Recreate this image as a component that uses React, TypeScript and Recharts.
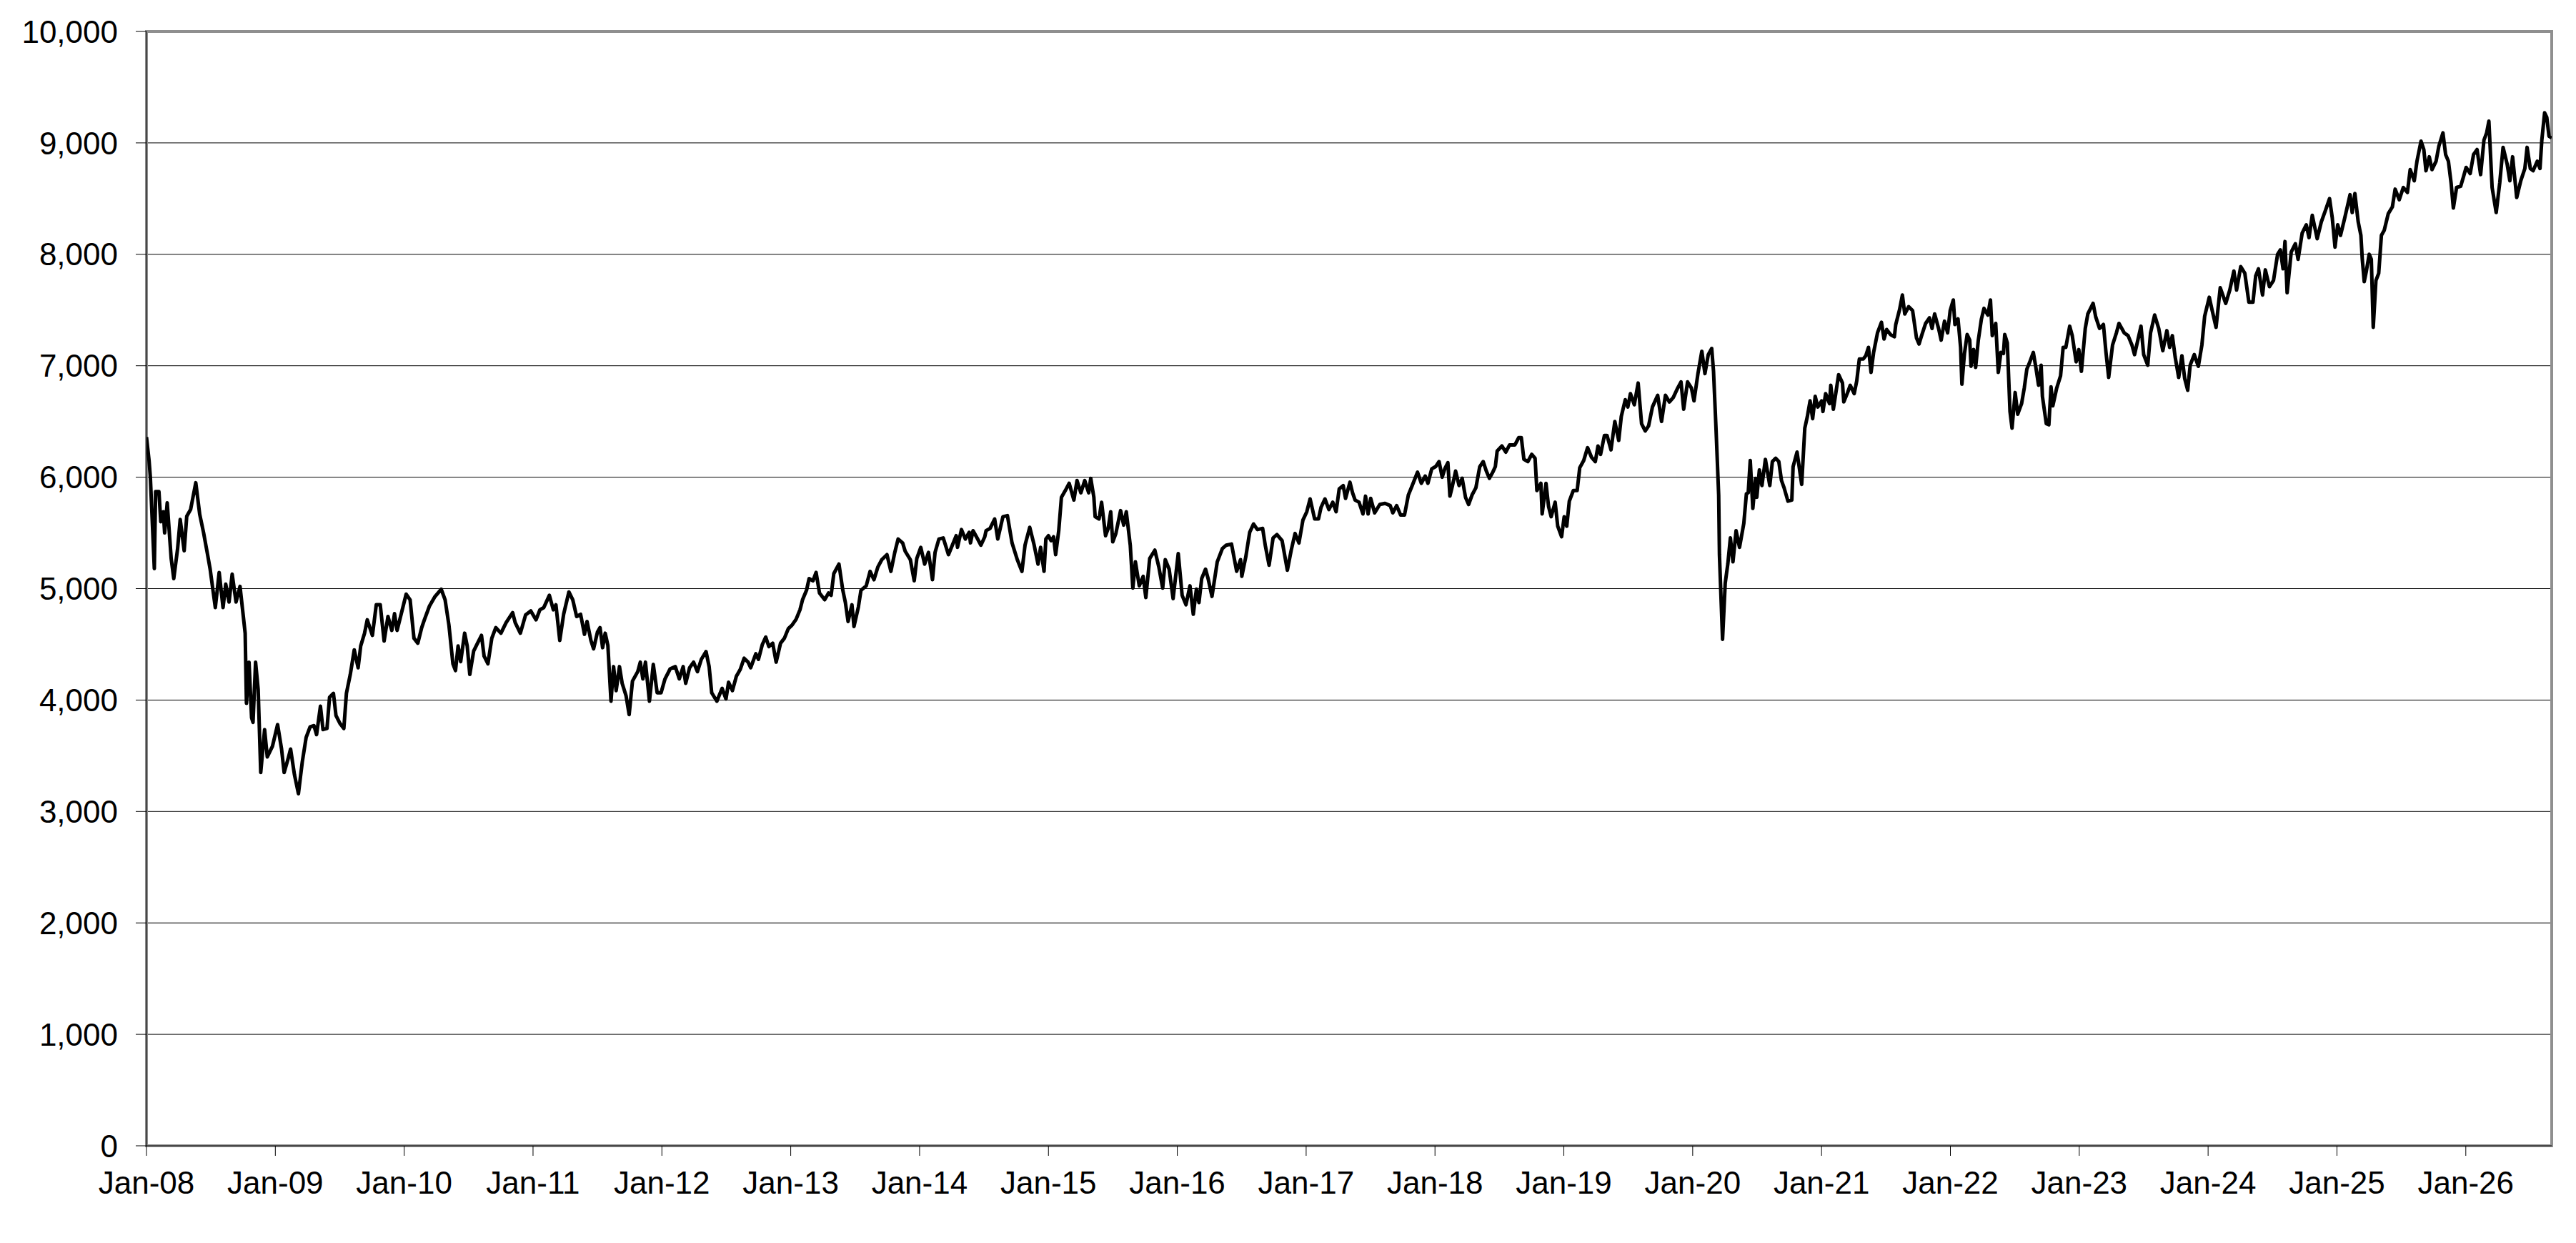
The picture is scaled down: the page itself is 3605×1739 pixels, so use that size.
import React from 'react';
import { LineChart, Line, XAxis, YAxis, CartesianGrid, ReferenceArea } from 'recharts';

// [months since Jan-08, index value]
const period2008to2010: [number, number][] = [
  [0.0, 6360], [0.24, 6150], [0.36, 6000], [0.73, 5180], [0.85, 5870], [1.16, 5870], [1.33, 5600],
  [1.57, 5690], [1.69, 5500], [1.93, 5770], [2.3, 5270], [2.54, 5090], [2.9, 5360], [3.14, 5620],
  [3.51, 5340], [3.75, 5650], [4.11, 5710], [4.59, 5950], [4.96, 5665], [5.32, 5500], [5.68, 5310],
  [5.92, 5180], [6.41, 4830], [6.77, 5145], [7.13, 4830], [7.38, 5040], [7.69, 4880], [7.98, 5130],
  [8.34, 4880], [8.71, 5020], [8.95, 4810], [9.19, 4600], [9.31, 3970], [9.55, 4340], [9.79, 3840],
  [9.92, 3800], [10.16, 4340], [10.4, 4095], [10.64, 3350], [11.0, 3735], [11.25, 3490], [11.73, 3585],
  [12.21, 3780], [12.58, 3560], [12.82, 3350], [13.18, 3470], [13.42, 3560], [13.78, 3330], [14.15, 3160],
  [14.51, 3445], [14.87, 3665], [15.24, 3760], [15.6, 3770], [15.84, 3690], [16.2, 3945], [16.44, 3735],
  [16.81, 3745], [17.05, 4025], [17.41, 4060], [17.65, 3860], [18.02, 3790], [18.38, 3745], [18.62, 4060],
  [18.98, 4230], [19.35, 4450], [19.71, 4290], [19.95, 4485], [20.31, 4600], [20.56, 4720], [21.04, 4580],
  [21.4, 4855], [21.77, 4855], [22.13, 4530], [22.49, 4750], [22.85, 4625], [23.1, 4775], [23.34, 4625],
  [23.82, 4810], [24.18, 4950], [24.55, 4900], [24.91, 4555], [25.27, 4510], [25.63, 4650], [25.88, 4720],
  [26.36, 4845], [26.84, 4925], [27.45, 4995], [27.81, 4900], [28.17, 4670], [28.54, 4325], [28.78, 4265],
  [29.02, 4485], [29.26, 4345], [29.63, 4600], [29.87, 4485], [30.11, 4230], [30.47, 4440], [30.83, 4510],
  [31.2, 4580], [31.44, 4395], [31.8, 4325], [32.16, 4555], [32.53, 4650], [33.01, 4600], [33.49, 4695],
  [34.1, 4785], [34.34, 4695], [34.82, 4600], [35.31, 4765], [35.79, 4800], [36.28, 4720], [36.64, 4810],
];

const period2011to2013: [number, number][] = [
  [37.0, 4830], [37.52, 4940], [37.89, 4810], [38.13, 4855], [38.49, 4535], [38.85, 4770], [39.34, 4970],
  [39.7, 4900], [40.06, 4750], [40.43, 4770], [40.79, 4590], [41.03, 4705], [41.39, 4535], [41.64, 4460],
  [42.0, 4610], [42.24, 4650], [42.48, 4470], [42.72, 4600], [42.97, 4490], [43.26, 3990], [43.5, 4300],
  [43.74, 4085], [44.05, 4300], [44.3, 4150], [44.66, 4040], [44.95, 3870], [45.26, 4170], [45.75, 4255],
  [45.99, 4340], [46.23, 4190], [46.47, 4340], [46.84, 3990], [47.2, 4320], [47.56, 4065], [47.92, 4065],
  [48.29, 4190], [48.77, 4280], [49.25, 4300], [49.62, 4190], [49.98, 4300], [50.22, 4150], [50.58, 4290],
  [50.95, 4340], [51.31, 4255], [51.67, 4365], [52.11, 4435], [52.4, 4300], [52.64, 4065], [53.12, 3990],
  [53.61, 4105], [53.97, 4010], [54.21, 4160], [54.57, 4085], [54.94, 4215], [55.3, 4275], [55.66, 4375],
  [56.03, 4340], [56.27, 4290], [56.75, 4415], [56.99, 4365], [57.36, 4500], [57.67, 4565], [57.96, 4480],
  [58.32, 4510], [58.64, 4340], [59.05, 4510], [59.41, 4555], [59.77, 4640], [60.14, 4675], [60.5, 4725],
  [60.86, 4810], [61.1, 4900], [61.47, 4985], [61.71, 5090], [62.07, 5070], [62.36, 5145], [62.68, 4960],
  [63.16, 4900], [63.52, 4960], [63.76, 4940], [64.01, 5135], [64.49, 5220], [64.85, 4985], [65.09, 4875],
  [65.34, 4705], [65.7, 4855], [65.89, 4660], [66.3, 4835], [66.54, 4985], [67.03, 5025], [67.39, 5155],
  [67.75, 5080], [68.12, 5195], [68.48, 5260], [68.96, 5305], [69.33, 5155], [69.69, 5325], [70.0, 5445],
  [70.42, 5410], [70.66, 5335], [71.14, 5260], [71.5, 5070], [71.74, 5270], [72.11, 5370], [72.47, 5220],
  [72.83, 5325], [73.2, 5080], [73.44, 5325], [73.8, 5445],
];

const period2014to2016: [number, number][] = [
  [74.2, 5455], [74.69, 5305], [75.05, 5390], [75.41, 5475], [75.53, 5370], [75.9, 5530], [76.26, 5445],
  [76.62, 5505], [76.74, 5410], [76.98, 5520], [77.35, 5455], [77.71, 5390], [78.07, 5465], [78.19, 5520],
  [78.56, 5540], [78.99, 5625], [79.28, 5445], [79.76, 5645], [80.18, 5655], [80.61, 5410], [81.1, 5260],
  [81.53, 5155], [81.82, 5390], [82.26, 5550], [82.67, 5390], [83.03, 5220], [83.27, 5370], [83.59, 5155],
  [83.76, 5445], [84.0, 5475], [84.24, 5430], [84.48, 5465], [84.67, 5305], [84.96, 5520], [85.21, 5820],
  [85.57, 5880], [85.93, 5945], [86.37, 5795], [86.66, 5970], [87.02, 5860], [87.38, 5970], [87.75, 5860],
  [87.94, 5990], [88.23, 5820], [88.35, 5645], [88.71, 5625], [88.95, 5775], [89.32, 5475], [89.56, 5540],
  [89.8, 5690], [89.99, 5420], [90.28, 5495], [90.72, 5700], [91.01, 5570], [91.25, 5690], [91.62, 5390],
  [91.86, 5005], [92.1, 5240], [92.46, 5025], [92.82, 5110], [93.07, 4920], [93.43, 5270], [93.91, 5345],
  [94.28, 5195], [94.64, 5005], [94.88, 5260], [95.24, 5175], [95.61, 4910], [96.09, 5315], [96.45, 4940],
  [96.81, 4855], [97.18, 5025], [97.49, 4770], [97.78, 4995], [98.02, 4875], [98.27, 5090], [98.63, 5175],
  [98.87, 5090], [99.23, 4930], [99.72, 5240], [100.2, 5360], [100.56, 5390], [101.05, 5400], [101.53, 5155],
  [101.89, 5260], [102.01, 5110], [102.38, 5285], [102.74, 5505], [103.1, 5580], [103.46, 5530], [103.95, 5540],
  [104.19, 5390], [104.55, 5210], [104.92, 5455], [105.28, 5485], [105.76, 5430], [106.25, 5165], [106.61, 5345],
  [106.97, 5495], [107.33, 5410], [107.7, 5615], [108.06, 5690], [108.37, 5805], [108.79, 5625], [109.15, 5625],
  [109.39, 5730], [109.75, 5805], [110.12, 5710], [110.48, 5775], [110.79, 5690], [111.08, 5895], [111.45, 5925],
];

const period2017to2020: [number, number][] = [
  [111.67, 5810], [112.08, 5955], [112.32, 5860], [112.56, 5795], [112.93, 5775], [113.29, 5670], [113.53, 5830],
  [113.77, 5670], [114.01, 5810], [114.38, 5680], [114.86, 5755], [115.35, 5765], [115.83, 5745], [116.07, 5680],
  [116.43, 5745], [116.8, 5660], [117.16, 5660], [117.52, 5840], [117.88, 5925], [118.37, 6045], [118.73, 5945],
  [119.09, 6010], [119.34, 5945], [119.7, 6075], [120.06, 6095], [120.38, 6140], [120.67, 6000], [120.91, 6075],
  [121.2, 6130], [121.39, 5830], [121.63, 5925], [121.92, 6055], [122.24, 5925], [122.53, 5990], [122.84, 5820],
  [123.13, 5755], [123.45, 5840], [123.81, 5905], [124.17, 6095], [124.49, 6140], [124.78, 6055], [125.07, 5990],
  [125.38, 6045], [125.62, 6095], [125.79, 6235], [126.23, 6280], [126.59, 6225], [126.95, 6290], [127.44, 6290],
  [127.8, 6355], [128.04, 6355], [128.28, 6160], [128.65, 6140], [129.01, 6205], [129.32, 6170], [129.49, 5880],
  [129.86, 5945], [129.98, 5670], [130.34, 5945], [130.58, 5735], [130.82, 5645], [131.19, 5775], [131.43, 5560],
  [131.79, 5465], [132.03, 5645], [132.27, 5560], [132.51, 5785], [132.88, 5880], [133.24, 5880], [133.48, 6085],
  [133.85, 6150], [134.21, 6265], [134.57, 6180], [134.93, 6140], [135.18, 6280], [135.42, 6205], [135.78, 6375],
  [136.02, 6375], [136.39, 6245], [136.75, 6500], [137.11, 6330], [137.35, 6545], [137.72, 6695], [137.96, 6630],
  [138.2, 6750], [138.56, 6650], [138.92, 6845], [139.24, 6480], [139.58, 6415], [139.89, 6460], [140.25, 6630],
  [140.74, 6735], [141.1, 6500], [141.46, 6735], [141.83, 6675], [142.19, 6715], [142.55, 6790], [142.91, 6855],
  [143.16, 6610], [143.52, 6855], [143.88, 6800], [144.12, 6685], [144.49, 6930], [144.85, 7130], [145.14, 6930],
  [145.45, 7100], [145.77, 7155], [145.94, 6950], [146.18, 6415], [146.42, 5840], [146.49, 5305], [146.78, 4545],
  [147.03, 5050], [147.27, 5220], [147.51, 5455], [147.75, 5240], [148.04, 5520], [148.36, 5370],
];

const period2020to2023: [number, number][] = [
  [148.76, 5585], [149.0, 5850], [149.17, 5860], [149.36, 6150], [149.6, 5720], [149.85, 5990], [149.97, 5820],
  [150.21, 6065], [150.45, 5925], [150.77, 6160], [151.18, 5925], [151.42, 6140], [151.73, 6170], [152.02, 6140],
  [152.27, 5970], [152.51, 5905], [152.87, 5785], [153.23, 5795], [153.35, 6095], [153.72, 6225], [154.15, 5935],
  [154.44, 6440], [154.68, 6545], [154.93, 6685], [155.17, 6525], [155.41, 6725], [155.65, 6630], [156.01, 6685],
  [156.13, 6590], [156.38, 6750], [156.74, 6660], [156.86, 6825], [157.1, 6610], [157.59, 6920], [157.95, 6845],
  [158.07, 6675], [158.43, 6760], [158.67, 6825], [159.04, 6750], [159.28, 6865], [159.52, 7060], [159.88, 7060],
  [160.12, 7090], [160.37, 7165], [160.61, 6940], [160.85, 7120], [161.21, 7295], [161.58, 7390], [161.82, 7240],
  [162.06, 7325], [162.42, 7280], [162.78, 7260], [162.91, 7370], [163.27, 7505], [163.53, 7635], [163.75, 7465],
  [164.11, 7530], [164.48, 7495], [164.84, 7250], [165.08, 7195], [165.32, 7270], [165.69, 7380], [166.05, 7430],
  [166.29, 7335], [166.53, 7465], [166.9, 7335], [167.14, 7230], [167.45, 7400], [167.74, 7295], [167.98, 7495],
  [168.27, 7590], [168.42, 7370], [168.71, 7420], [168.95, 7165], [169.07, 6835], [169.31, 7110], [169.56, 7280],
  [169.8, 7230], [169.92, 6995], [170.16, 7145], [170.35, 6985], [170.6, 7230], [170.89, 7420], [171.13, 7515],
  [171.49, 7455], [171.73, 7590], [171.9, 7270], [172.22, 7380], [172.46, 6940], [172.7, 7120], [172.94, 7110],
  [173.06, 7280], [173.3, 7205], [173.55, 6590], [173.74, 6440], [174.03, 6760], [174.27, 6565], [174.63, 6660],
  [174.88, 6800], [175.12, 6970], [175.36, 7025], [175.72, 7120], [175.96, 6985], [176.21, 6825], [176.45, 7005],
  [176.57, 6725], [176.93, 6480], [177.17, 6470], [177.37, 6810], [177.54, 6640], [177.9, 6800], [178.26, 6910],
  [178.5, 7165], [178.75, 7165], [179.11, 7355], [179.35, 7270], [179.71, 7035], [179.96, 7145], [180.2, 6950],
  [180.56, 7335], [180.8, 7465], [181.29, 7560], [181.53, 7440], [181.89, 7335], [182.25, 7370], [182.49, 7120],
  [182.74, 6895], [183.1, 7185], [183.46, 7295], [183.7, 7380], [184.19, 7295], [184.55, 7270], [184.91, 7185],
  [185.15, 7100],
];

const period2023to2026: [number, number][] = [
  [185.75, 7355], [186.0, 7100], [186.38, 7005], [186.64, 7295], [187.02, 7455], [187.4, 7335], [187.78, 7135],
  [188.16, 7315], [188.42, 7165], [188.67, 7270], [188.93, 7080], [189.26, 6895], [189.56, 7090], [189.82, 6885],
  [190.1, 6780], [190.33, 7005], [190.71, 7100], [191.09, 6995], [191.42, 7185], [191.68, 7445], [192.11, 7615],
  [192.36, 7505], [192.74, 7345], [193.13, 7700], [193.64, 7560], [194.02, 7680], [194.4, 7850], [194.65, 7680],
  [195.04, 7890], [195.42, 7830], [195.8, 7570], [196.18, 7570], [196.43, 7805], [196.69, 7870], [197.07, 7635],
  [197.33, 7860], [197.71, 7710], [198.09, 7765], [198.47, 8000], [198.73, 8040], [198.98, 7870], [199.16, 8115],
  [199.36, 7655], [199.74, 8020], [200.13, 8095], [200.38, 7955], [200.76, 8190], [201.14, 8265], [201.4, 8150],
  [201.7, 8350], [202.16, 8140], [202.54, 8290], [202.93, 8395], [203.31, 8500], [203.56, 8330], [203.82, 8065],
  [204.07, 8265], [204.33, 8170], [204.71, 8320], [204.96, 8425], [205.22, 8535], [205.42, 8375], [205.67, 8545],
  [205.98, 8290], [206.23, 8170], [206.36, 7955], [206.54, 7755], [206.74, 7850], [207.0, 8000], [207.2, 7955],
  [207.38, 7345], [207.63, 7765], [207.89, 7830], [208.14, 8170], [208.4, 8215], [208.78, 8365], [209.16, 8425],
  [209.42, 8585], [209.8, 8490], [210.18, 8600], [210.56, 8555], [210.82, 8760], [211.2, 8660], [211.45, 8835],
  [211.83, 9015], [212.09, 8940], [212.29, 8750], [212.6, 8875], [212.85, 8760], [213.23, 8835], [213.49, 8970],
  [213.87, 9090], [214.12, 8895], [214.38, 8835], [214.63, 8640], [214.84, 8415], [215.14, 8600], [215.52, 8610],
  [215.78, 8695], [216.03, 8780], [216.41, 8725], [216.72, 8895], [217.05, 8940], [217.38, 8715], [217.69, 9025],
  [217.94, 9090], [218.15, 9195], [218.45, 8600], [218.83, 8375], [219.16, 8640], [219.47, 8960], [219.85, 8810],
  [220.1, 8660], [220.36, 8875], [220.74, 8510], [221.12, 8660], [221.5, 8770], [221.71, 8960], [222.01, 8770],
  [222.27, 8750], [222.65, 8835], [222.91, 8770], [223.08, 9025], [223.34, 9270], [223.54, 9230], [223.75, 9060],
  [224.0, 9045],
];

const xTickMonths = [0, 12, 24, 36, 48, 60, 72, 84, 96, 108, 120, 132, 144, 156, 168, 180, 192, 204, 216];
const xTickLabels = [
  'Jan-08', 'Jan-09', 'Jan-10', 'Jan-11', 'Jan-12', 'Jan-13', 'Jan-14', 'Jan-15', 'Jan-16', 'Jan-17',
  'Jan-18', 'Jan-19', 'Jan-20', 'Jan-21', 'Jan-22', 'Jan-23', 'Jan-24', 'Jan-25', 'Jan-26',
];
const yTicks = [0, 1000, 2000, 3000, 4000, 5000, 6000, 7000, 8000, 9000, 10000];

const data = [
  ...period2008to2010,
  ...period2011to2013,
  ...period2014to2016,
  ...period2017to2020,
  ...period2020to2023,
  ...period2023to2026,
].map(([t, v]) => ({ t, v }));

const FONT = '"Liberation Sans", Arial, sans-serif';
const tickStyle = { fill: '#000', fontSize: 44, fontFamily: FONT };

export default function App() {
  return (
    <div style={{ width: 3589, height: 1723, background: '#fff', fontFamily: FONT }}>
      <LineChart
        width={3589}
        height={1723}
        data={data}
        margin={{ top: 36, right: 26, bottom: 30, left: 0 }}
      >
        <CartesianGrid vertical={false} stroke="#000" strokeWidth={1} />
        <ReferenceArea
          x1={0}
          x2={224}
          y1={0}
          y2={10000}
          fill="none"
          fillOpacity={0}
          stroke="#8f8f8f"
          strokeWidth={4}
        />
        <XAxis
          dataKey="t"
          type="number"
          domain={[0, 224]}
          ticks={xTickMonths}
          interval={0}
          tickFormatter={(m: number) => xTickLabels[xTickMonths.indexOf(m)] ?? ''}
          axisLine={{ stroke: '#000', strokeWidth: 1 }}
          tickLine={{ stroke: '#000', strokeWidth: 1 }}
          tickSize={14}
          tickMargin={22}
          height={98}
          tick={tickStyle}
          allowDataOverflow
        />
        <YAxis
          type="number"
          domain={[0, 10000]}
          ticks={yTicks}
          interval={0}
          tickFormatter={(v: number) => v.toLocaleString('en-US')}
          width={197}
          axisLine={{ stroke: '#000', strokeWidth: 1 }}
          tickLine={{ stroke: '#000', strokeWidth: 1 }}
          tickSize={15}
          tickMargin={25}
          tick={tickStyle}
          allowDataOverflow
        />
        <Line
          type="linear"
          dataKey="v"
          stroke="#000"
          strokeWidth={5}
          strokeLinejoin="round"
          dot={false}
          activeDot={false}
          isAnimationActive={false}
        />
      </LineChart>
    </div>
  );
}
